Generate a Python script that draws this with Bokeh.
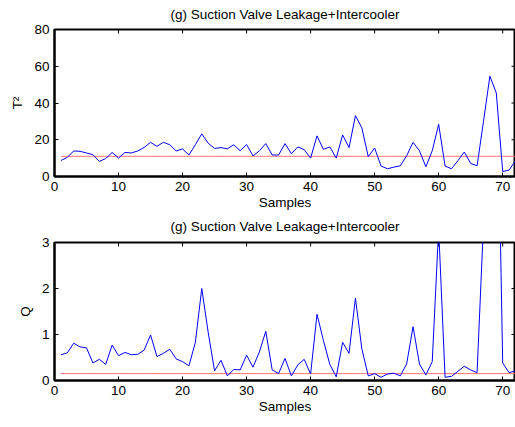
import math
from bokeh.plotting import figure
from bokeh.layouts import column
from bokeh.models import Range1d, FixedTicker, Title
from bokeh.embed import file_html
from bokeh.resources import INLINE

samples = list(range(1, 73))
t2_values = [8.7, 10.4, 13.9, 13.7, 12.8, 11.9, 8.2, 9.8, 13.1, 10.0,
             13.1, 12.8, 13.9, 15.8, 18.6, 16.4, 18.6, 17.3, 13.9, 15.0,
             11.7, 17.3, 23.2, 18.1, 15.3, 15.7, 15.1, 17.3, 14.0, 17.4,
             11.2, 14.0, 17.9, 11.7, 11.7, 17.9, 12.4, 16.1, 14.6, 10.0,
             22.1, 14.8, 16.1, 10.0, 22.6, 15.7, 33.1, 26.5, 10.8, 15.5,
             5.7, 4.2, 5.1, 5.8, 11.3, 18.6, 14.0, 5.3, 14.0, 28.4,
             5.7, 4.2, 8.6, 13.3, 7.1, 5.8, 30.0, 54.6, 45.5, 2.7,
             3.5, 8.6]
q_values = [0.56, 0.60, 0.81, 0.73, 0.71, 0.38, 0.46, 0.35, 0.77, 0.54,
            0.61, 0.56, 0.57, 0.66, 0.99, 0.52, 0.59, 0.68, 0.47, 0.41,
            0.32, 0.83, 2.00, 1.05, 0.21, 0.44, 0.10, 0.24, 0.23, 0.55,
            0.29, 0.62, 1.07, 0.23, 0.15, 0.48, 0.10, 0.34, 0.46, 0.14,
            1.44, 0.87, 0.35, 0.08, 0.83, 0.59, 1.79, 0.69, 0.10, 0.15,
            0.07, 0.14, 0.16, 0.10, 0.36, 1.17, 0.36, 0.12, 0.41, 3.30,
            0.07, 0.09, 0.20, 0.31, 0.23, 0.17, 3.40, 8.00, 8.00, 0.38,
            0.17, 0.21]
t2_limit = 11.0
q_limit = 0.15
x_ticks = [0, 10, 20, 30, 40, 50, 60, 70]
t2_ticks = [0, 20, 40, 60, 80]
q_ticks = [0, 1, 2, 3]
title_text = "(g) Suction Valve Leakage+Intercooler"

X_MAX = 72
FONT = "Liberation Sans"
FS = "13.5px"


def style_axis(ax, ticks):
    ax.ticker = FixedTicker(ticks=ticks)
    ax.major_tick_in = 4
    ax.major_tick_out = 0
    ax.minor_tick_line_color = None
    ax.axis_line_color = "black"
    ax.axis_line_width = 2
    ax.major_tick_line_color = "black"
    ax.major_label_text_font = FONT
    ax.major_label_text_font_size = FS
    ax.major_label_text_color = "black"
    ax.major_label_standoff = 5
    ax.axis_label_text_font = FONT
    ax.axis_label_text_font_size = FS
    ax.axis_label_text_font_style = "normal"
    ax.axis_label_text_color = "black"


def make(yvals, limit, ymax, yticks, ylabel, height, top, bottom, standoff):
    p = figure(width=515, height=height, output_backend="svg",
               toolbar_location=None, x_range=Range1d(0, X_MAX),
               y_range=Range1d(0, ymax), min_border_left=54,
               min_border_right=0, min_border_top=top,
               min_border_bottom=bottom)
    p.title = Title(text=title_text, align="center", text_font=FONT,
                    text_font_size=FS, text_font_style="normal",
                    text_color="black", standoff=standoff,
                    vertical_align="top", text_line_height=1.0)
    p.grid.visible = False
    p.outline_line_color = "black"
    p.outline_line_width = 2
    p.background_fill_color = "white"
    p.border_fill_color = "white"
    style_axis(p.xaxis[0], x_ticks)
    style_axis(p.yaxis[0], yticks)
    p.xaxis[0].axis_label = "Samples"
    p.xaxis[0].axis_label_standoff = 1
    p.yaxis[0].axis_label = ylabel
    p.yaxis[0].axis_label_standoff = 6
    # inward tick marks on the top and right box edges
    p.ray(x=x_ticks, y=[ymax] * len(x_ticks), length=4, length_units="screen",
          angle=-math.pi / 2, line_color="black", line_width=1)
    p.ray(x=[X_MAX] * len(yticks), y=yticks, length=4, length_units="screen",
          angle=math.pi, line_color="black", line_width=1)
    p.line(samples, [limit] * len(samples), line_color="#ff7070",
           line_width=1)
    p.line(samples, yvals, line_color="#0000ff", line_width=1)
    return p


p1 = make(t2_values, t2_limit, 80, t2_ticks, "T²", 212, 29, 36, 12)
p2 = make(q_values, q_limit, 3, q_ticks, "Q", 215, 30, 47, 13)
layout = column(p1, p2, spacing=0)

open("out.html", "w").write(file_html(layout, INLINE))
